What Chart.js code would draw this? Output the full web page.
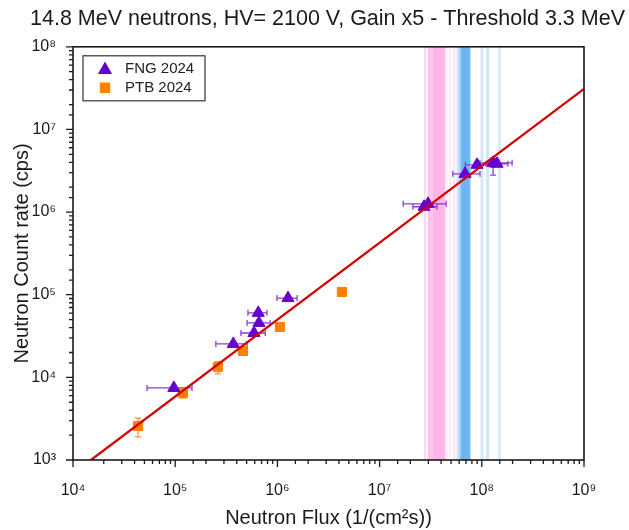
<!DOCTYPE html>
<html>
<head>
<meta charset="utf-8">
<script src="https://cdn.jsdelivr.net/npm/chart.js@4"></script>
<style>
  html, body { margin: 0; padding: 0; background: #fff; }
</style>
</head>
<body>
<canvas id="chart" width="629" height="530"></canvas>
<script>
// FNG 2024 points (purple triangles)
const fng_flux = [9.7e4, 3.7e5, 5.9e5, 6.6e5, 6.5e5, 1.27e6, 2.72e7, 2.98e7, 6.86e7, 8.97e7, 1.29e8, 1.41e8];
const fng_rate = [7.45e3, 2.54e4, 3.44e4, 4.56e4, 6.03e4, 9.1e4, 1.16e6, 1.26e6, 2.9e6, 3.73e6, 3.94e6, 3.84e6];
const fng_flux_lo = [5.3e4, 2.5e5, 4.4e5, 5.05e5, 5.15e5, 9.9e5, 2.12e7, 1.7e7, 5.2e7, 6.9e7, 9.6e7, 1.1e8];
const fng_flux_hi = [1.46e5, 5.05e5, 7.6e5, 8.5e5, 7.9e5, 1.56e6, 3.65e7, 4.47e7, 9.6e7, 1.2e8, 1.98e8, 1.8e8];
const fng_rate_lo = [7.45e3, 2.54e4, 3.44e4, 4.56e4, 6.03e4, 9.1e4, 1.16e6, 1.26e6, 2.9e6, 3.73e6, 2.8e6, 3.84e6];
const fng_rate_hi = [7.45e3, 2.54e4, 3.44e4, 4.56e4, 6.03e4, 9.1e4, 1.16e6, 1.26e6, 2.9e6, 3.73e6, 4.5e6, 3.84e6];

// PTB 2024 points (orange squares)
const ptb_flux = [4.33e4, 1.19e5, 2.62e5, 4.6e5, 1.06e6, 4.28e6];
const ptb_rate = [2.58e3, 6.47e3, 1.34e4, 2.09e4, 4.07e4, 1.08e5];
const ptb_rate_lo = [1.9e3, 5.6e3, 1.1e4, 1.9e4, 3.8e4, 1.03e5];
const ptb_rate_hi = [3.2e3, 7.2e3, 1.55e4, 2.2e4, 4.3e4, 1.12e5];

// linear fit (ends of the red line)
const fit_flux = [1.5e4, 1e9];
const fit_rate = [1e3, 3.1e7];

// vertical shaded bands on the flux axis
const band_lo = [2.72e7, 2.95e7, 3.3e7, 4.4e7, 4.81e7, 5.26e7, 5.68e7, 6.03e7, 6.3e7, 9.75e7, 1.10e8, 1.45e8];
const band_hi = [2.85e7, 3.3e7, 4.36e7, 4.6e7, 4.97e7, 5.51e7, 6.03e7, 7.78e7, 7.6e7, 1.035e8, 1.18e8, 1.53e8];
const band_color = [
  'rgba(255,170,225,0.45)', 'rgba(255,140,215,0.5)', 'rgba(255,120,210,0.55)', 'rgba(255,180,230,0.3)',
  'rgba(255,170,225,0.35)', 'rgba(255,170,225,0.35)',
  'rgba(150,200,245,0.5)', 'rgba(110,180,245,0.7)', 'rgba(70,160,240,0.5)',
  'rgba(150,200,245,0.45)', 'rgba(150,200,245,0.45)', 'rgba(150,200,245,0.45)'
];

const legend_labels = ['FNG 2024', 'PTB 2024'];
const x_title = 'Neutron Flux (1/(cm\u00b2s))';
const y_title = 'Neutron Count rate (cps)';
const chart_title = '14.8 MeV neutrons, HV= 2100 V, Gain x5 - Threshold 3.3 MeV';

const purple = '#6600cc';
const orange = '#ff8000';
const sup = ['\u2070', '\u00b9', '\u00b2', '\u00b3', '\u2074', '\u2075', '\u2076', '\u2077', '\u2078', '\u2079'];

function is_decade(v) {
  const e = Math.log10(v);
  return Math.abs(e - Math.round(e)) < 1e-6;
}

function decade_label(v) {
  if (!is_decade(v)) return '';
  return '10' + sup[Math.round(Math.log10(v))];
}

// bands and error bars go under the markers
const under_plugin = {
  id: 'under',
  beforeDatasetsDraw(chart) {
    const { ctx, chartArea: a, scales: { x, y } } = chart;
    ctx.save();
    ctx.beginPath();
    ctx.rect(a.left, a.top, a.right - a.left, a.bottom - a.top);
    ctx.clip();
    for (let i = 0; i < band_lo.length; i++) {
      const x0 = x.getPixelForValue(band_lo[i]);
      const x1 = x.getPixelForValue(band_hi[i]);
      ctx.fillStyle = band_color[i];
      ctx.fillRect(x0, a.top, x1 - x0, a.bottom - a.top);
    }

    const cap = 3;
    ctx.lineWidth = 1.3;
    ctx.strokeStyle = '#8a3fd0';
    ctx.beginPath();
    for (let i = 0; i < fng_flux.length; i++) {
      const px = x.getPixelForValue(fng_flux[i]);
      const py = y.getPixelForValue(fng_rate[i]);
      const xl = x.getPixelForValue(fng_flux_lo[i]);
      const xh = x.getPixelForValue(fng_flux_hi[i]);
      ctx.moveTo(xl, py); ctx.lineTo(xh, py);
      ctx.moveTo(xl, py - cap); ctx.lineTo(xl, py + cap);
      ctx.moveTo(xh, py - cap); ctx.lineTo(xh, py + cap);
      const yl = y.getPixelForValue(fng_rate_lo[i]);
      const yh = y.getPixelForValue(fng_rate_hi[i]);
      if (yl - yh > 1) {
        ctx.moveTo(px, yl); ctx.lineTo(px, yh);
        ctx.moveTo(px - cap, yl); ctx.lineTo(px + cap, yl);
        ctx.moveTo(px - cap, yh); ctx.lineTo(px + cap, yh);
      }
    }
    ctx.stroke();

    ctx.strokeStyle = '#ff9933';
    ctx.beginPath();
    for (let i = 0; i < ptb_flux.length; i++) {
      const px = x.getPixelForValue(ptb_flux[i]);
      const yl = y.getPixelForValue(ptb_rate_lo[i]);
      const yh = y.getPixelForValue(ptb_rate_hi[i]);
      ctx.moveTo(px, yl); ctx.lineTo(px, yh);
      ctx.moveTo(px - cap, yl); ctx.lineTo(px + cap, yl);
      ctx.moveTo(px - cap, yh); ctx.lineTo(px + cap, yh);
    }
    ctx.stroke();
    ctx.restore();
  }
};

// frame, outward ticks, legend box
const frame_plugin = {
  id: 'frame',
  afterDraw(chart) {
    const { ctx, chartArea: a, scales: { x, y } } = chart;
    ctx.save();
    ctx.strokeStyle = '#1a1a1a';
    ctx.lineWidth = 1.6;
    ctx.strokeRect(a.left, a.top, a.right - a.left, a.bottom - a.top);

    ctx.lineWidth = 1.3;
    ctx.beginPath();
    x.ticks.forEach(t => {
      const px = x.getPixelForValue(t.value);
      const len = is_decade(t.value) ? 7 : 4;
      ctx.moveTo(px, a.bottom); ctx.lineTo(px, a.bottom + len);
    });
    y.ticks.forEach(t => {
      const py = y.getPixelForValue(t.value);
      const len = is_decade(t.value) ? 7 : 4;
      ctx.moveTo(a.left, py); ctx.lineTo(a.left - len, py);
    });
    ctx.stroke();

    // legend
    const lx = a.left + 10, ly = a.top + 9;
    ctx.lineWidth = 1.2;
    ctx.strokeStyle = '#333';
    ctx.strokeRect(lx, ly, 122, 45);
    const styles = [
      { pointStyle: 'triangle', radius: 7, rotation: 0, borderWidth: 1, color: purple },
      { pointStyle: 'rect', radius: 6.5, rotation: 0, borderWidth: 1, color: orange }
    ];
    ctx.font = '15px "Liberation Sans", Arial, sans-serif';
    ctx.textBaseline = 'middle';
    ctx.textAlign = 'left';
    legend_labels.forEach((label, i) => {
      const cy = ly + 13 + i * 19;
      ctx.fillStyle = styles[i].color;
      ctx.strokeStyle = styles[i].color;
      Chart.helpers.drawPoint(ctx, styles[i], lx + 22, cy + (i === 0 ? 1 : 0));
      ctx.fillStyle = '#222';
      ctx.fillText(label, lx + 42, cy);
    });
    ctx.restore();
  }
};

const font_family = '"Liberation Sans", Arial, sans-serif';

new Chart(document.getElementById('chart'), {
  data: {
    datasets: [
      {
        type: 'line',
        label: 'fit',
        data: fit_flux.map((v, i) => ({ x: v, y: fit_rate[i] })),
        borderColor: '#d40000',
        borderWidth: 2.2,
        pointRadius: 0,
        fill: false
      },
      {
        type: 'scatter',
        label: legend_labels[0],
        data: fng_flux.map((v, i) => ({ x: v, y: fng_rate[i] })),
        pointStyle: 'triangle',
        pointRadius: 7,
        backgroundColor: purple,
        borderColor: purple,
        borderWidth: 1
      },
      {
        type: 'scatter',
        label: legend_labels[1],
        data: ptb_flux.map((v, i) => ({ x: v, y: ptb_rate[i] })),
        pointStyle: 'rect',
        pointRadius: 6.5,
        backgroundColor: orange,
        borderColor: orange,
        borderWidth: 1
      }
    ]
  },
  options: {
    responsive: false,
    animation: false,
    layout: { padding: { left: 0, right: 4, top: 0, bottom: 0 } },
    plugins: {
      legend: { display: false },
      tooltip: { enabled: false },
      title: {
        display: true,
        text: chart_title,
        align: 'end',
        color: '#1a1a1a',
        font: { family: font_family, size: 21.5, weight: 'normal' },
        padding: { top: 6, bottom: 15 }
      }
    },
    scales: {
      x: {
        type: 'logarithmic',
        position: 'bottom',
        min: 1e4,
        max: 1e9,
        grid: { display: false },
        border: { display: false },
        ticks: {
          autoSkip: false,
          maxRotation: 0,
          padding: 13,
          color: '#1a1a1a',
          font: { family: font_family, size: 16 },
          callback: decade_label
        },
        title: {
          display: true,
          text: x_title,
          color: '#1a1a1a',
          font: { family: font_family, size: 20 },
          padding: { top: 2, bottom: 0 }
        },
        afterFit(scale) { scale.height = 70; }
      },
      y: {
        type: 'logarithmic',
        position: 'left',
        min: 1e3,
        max: 1e8,
        grid: { display: false },
        border: { display: false },
        ticks: {
          autoSkip: false,
          padding: 9,
          color: '#1a1a1a',
          font: { family: font_family, size: 16 },
          callback: decade_label
        },
        title: {
          display: true,
          text: y_title,
          color: '#1a1a1a',
          font: { family: font_family, size: 20 },
          padding: { top: 10, bottom: 0 }
        },
        afterFit(scale) { scale.width = 73; }
      },
      y2: {
        type: 'linear',
        position: 'right',
        display: true,
        min: 0,
        max: 1,
        grid: { display: false },
        border: { display: false },
        ticks: { display: false },
        afterFit(scale) { scale.width = 41; }
      }
    }
  },
  plugins: [under_plugin, frame_plugin]
});
</script>
</body>
</html>
